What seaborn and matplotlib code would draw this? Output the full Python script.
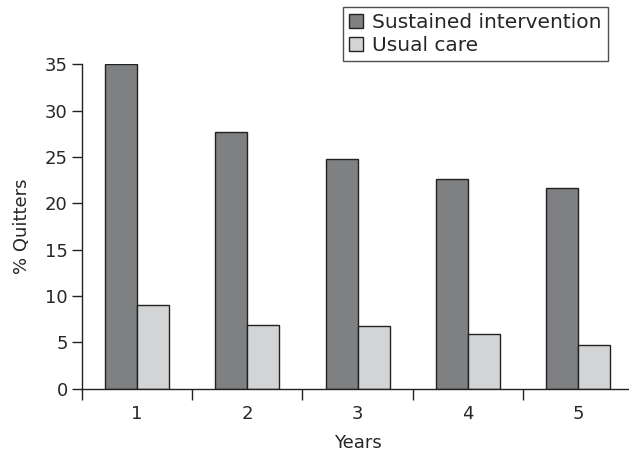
import matplotlib
matplotlib.use("Agg")
import matplotlib.pyplot as plt
import seaborn as sns
import pandas as pd

years = ["1", "2", "3", "4", "5"]
sustained = [35.0, 27.7, 24.8, 22.6, 21.65]
usual_care = [9.0, 6.87, 6.8, 5.87, 4.68]
groups = ["Sustained intervention", "Usual care"]
colors = ["#7f8082", "#d3d4d6"]
y_ticks = [0, 5, 10, 15, 20, 25, 30, 35]

df = pd.DataFrame({
    "Years": years * 2,
    "Quitters": sustained + usual_care,
    "Group": [groups[0]] * len(years) + [groups[1]] * len(years),
})

sns.set_style("white")
plt.rcParams["font.family"] = ["DejaVu Sans"]

fig = plt.figure(figsize=(6.29, 4.54), dpi=100)
ax = fig.add_axes([0.1296, 0.1438, 0.8776, 0.7146])

sns.barplot(data=df, x="Years", y="Quitters", hue="Group", hue_order=groups,
            palette=colors, width=0.58, edgecolor="#222222", linewidth=1.0,
            saturation=1, ax=ax, legend=True)

ax.set_xlim(-0.5, 4.5)
ax.set_ylim(0, 35)
ax.set_yticks(y_ticks)
ax.set_xticks([i - 0.5 for i in range(6)], minor=False)
ax.set_xticklabels([])
ax.set_xticks(range(5), minor=True)
ax.set_xticklabels(years, minor=True)

for side in ["top", "right"]:
    ax.spines[side].set_visible(False)
for side in ["left", "bottom"]:
    ax.spines[side].set_color("#222222")
    ax.spines[side].set_linewidth(1.0)

ax.tick_params(axis="y", which="major", direction="out", length=7, width=1.0,
               color="#222222", labelsize=13, pad=3, left=True)
ax.tick_params(axis="x", which="major", direction="out", length=8, width=1.0,
               color="#222222", bottom=True)
ax.tick_params(axis="x", which="minor", length=0, labelsize=13, pad=12)

ax.set_xlabel("Years", fontsize=13, labelpad=8)
ax.set_ylabel("% Quitters", fontsize=13, labelpad=10)

leg = ax.legend(loc="upper right", bbox_to_anchor=(608 / 629, 1 - 7 / 454),
                bbox_transform=fig.transFigure, borderaxespad=0, frameon=True,
                fancybox=False, fontsize=14.5, handlelength=0.7, handleheight=0.7,
                handletextpad=0.45, labelspacing=0.2, borderpad=0.3)
leg.get_frame().set_edgecolor("#222222")
leg.get_frame().set_linewidth(1.0)

fig.savefig("out.png", dpi=100)
